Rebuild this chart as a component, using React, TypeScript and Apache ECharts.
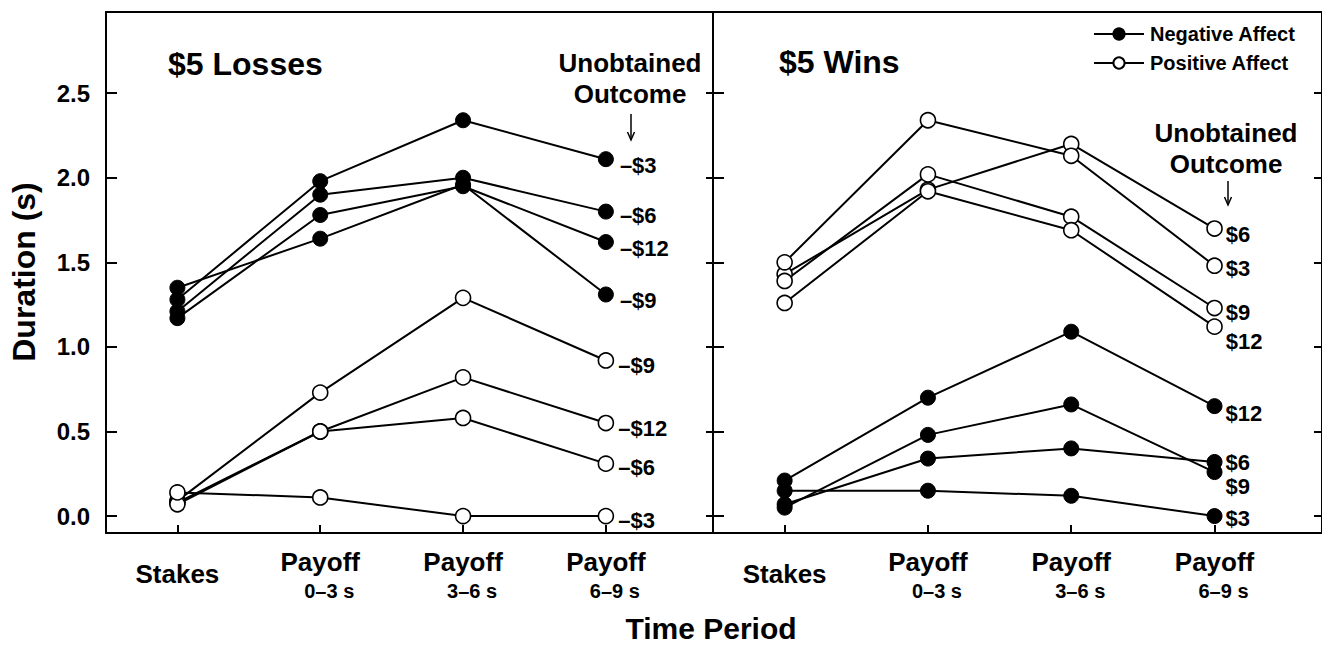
import React, { useEffect, useRef } from "react";
import * as echarts from "echarts";

// ---------- data ----------
const periods = ["Stakes", "Payoff", "Payoff", "Payoff"];
const periodSub = ["", "0–3 s", "3–6 s", "6–9 s"];
const periodX = [1, 2, 3, 4];
const yTicks = [0, 0.5, 1, 1.5, 2, 2.5];

// $5 Losses, Negative Affect (unobtained outcome)
const lossNegLabels = ["–$3", "–$6", "–$12", "–$9"];
const lossNeg3 = [1.28, 1.98, 2.34, 2.11];
const lossNeg6 = [1.21, 1.9, 2.0, 1.8];
const lossNeg12 = [1.17, 1.78, 1.95, 1.62];
const lossNeg9 = [1.35, 1.64, 1.96, 1.31];

// $5 Losses, Positive Affect
const lossPosLabels = ["–$9", "–$12", "–$6", "–$3"];
const lossPos9 = [0.09, 0.73, 1.29, 0.92];
const lossPos12 = [0.08, 0.5, 0.82, 0.55];
const lossPos6 = [0.07, 0.5, 0.58, 0.31];
const lossPos3 = [0.14, 0.11, 0.0, 0.0];

// $5 Wins, Positive Affect
const winPosLabels = ["$6", "$3", "$9", "$12"];
const winPos6 = [1.43, 1.93, 2.2, 1.7];
const winPos3 = [1.5, 2.34, 2.13, 1.48];
const winPos9 = [1.39, 2.02, 1.77, 1.23];
const winPos12 = [1.26, 1.92, 1.69, 1.12];

// $5 Wins, Negative Affect
const winNegLabels = ["$12", "$6", "$9", "$3"];
const winNeg12 = [0.21, 0.7, 1.09, 0.65];
const winNeg6 = [0.07, 0.34, 0.4, 0.32];
const winNeg9 = [0.05, 0.48, 0.66, 0.26];
const winNeg3 = [0.15, 0.15, 0.12, 0.0];

const NEG = "Negative Affect";
const POS = "Positive Affect";

// ---------- styles ----------
const FONT = "'Liberation Sans', Arial, Helvetica, sans-serif";
const lossNegDy = [6, 4, 6, 6];
const lossPosDy = [5, 5, 4, 4];
const winPosDy = [6, 3, 4, 15];
const winNegDy = [7, 1, 14, 2];

function makeSeries(
  name: string,
  values: number[],
  label: string,
  panel: number,
  filled: boolean,
  dy: number,
  dist: number
) {
  const data = values.map((v, i) => {
    if (i === values.length - 1) {
      return {
        value: [periodX[i], v],
        label: {
          show: true,
          formatter: label,
          position: "right",
          distance: dist,
          offset: [0, dy],
          fontSize: 22,
          fontWeight: "bold",
          fontFamily: FONT,
          color: "#000",
        },
      };
    }
    return { value: [periodX[i], v] };
  });
  return {
    type: "line",
    name,
    xAxisIndex: panel * 2,
    yAxisIndex: panel * 2,
    data,
    symbol: "circle",
    symbolSize: 15,
    showSymbol: true,
    lineStyle: { color: "#000", width: 2 },
    itemStyle: filled
      ? { color: "#000", borderColor: "#000", borderWidth: 1 }
      : { color: "#fff", borderColor: "#000", borderWidth: 1.6 },
    emphasis: { disabled: true },
    z: filled ? 3 : 2,
  };
}

const tickStyle = { color: "#000", width: 2 };

function yAxisCfg(grid: number, position: string, len: number, labels: boolean) {
  return {
    type: "value",
    gridIndex: grid,
    position,
    min: -0.1,
    max: 2.98,
    splitLine: { show: false },
    axisLine: { show: true, onZero: false, lineStyle: tickStyle },
    axisTick: { show: true, inside: true, length: len, lineStyle: tickStyle, customValues: yTicks },
    axisLabel: labels
      ? {
          show: true,
          customValues: yTicks,
          margin: 16,
          fontSize: 24,
          fontWeight: "bold",
          fontFamily: FONT,
          color: "#000",
          formatter: (v: number) => v.toFixed(1),
        }
      : { show: false },
  };
}

function xAxisBottom(grid: number) {
  return {
    type: "value",
    gridIndex: grid,
    position: "bottom",
    min: 0.5,
    max: 4.75,
    splitLine: { show: false },
    axisLine: { show: true, onZero: false, lineStyle: tickStyle },
    axisTick: { show: true, inside: true, length: 8, lineStyle: tickStyle, customValues: periodX },
    axisLabel: {
      show: true,
      customValues: periodX,
      margin: 14.5,
      color: "#000",
      fontFamily: FONT,
      fontWeight: "bold",
      formatter: (v: number) => {
        const i = Math.round(v) - 1;
        if (!periodSub[i]) return "{st|" + periods[i] + "}";
        return "{p|" + periods[i] + "}\n{s|" + periodSub[i] + "}";
      },
      rich: {
        st: { fontSize: 26, fontWeight: "bold", fontFamily: FONT, color: "#000", lineHeight: 53 },
        p: { fontSize: 26, fontWeight: "bold", fontFamily: FONT, color: "#000", lineHeight: 29 },
        s: {
          fontSize: 20,
          fontWeight: "bold",
          fontFamily: FONT,
          color: "#000",
          lineHeight: 29,
          padding: [0, 0, 0, 18],
        },
      },
    },
  };
}

function xAxisTop(grid: number) {
  return {
    type: "value",
    gridIndex: grid,
    position: "top",
    min: 0.5,
    max: 4.75,
    splitLine: { show: false },
    axisLine: { show: true, onZero: false, lineStyle: tickStyle },
    axisTick: { show: false },
    axisLabel: { show: false },
  };
}

function arrow(x: number, y1: number, y2: number) {
  return [
    { type: "line", shape: { x1: x, y1, x2: x, y2 }, style: { stroke: "#000", lineWidth: 1.5 } },
    {
      type: "polyline",
      shape: { points: [[x - 3.5, y2 - 8], [x, y2], [x + 3.5, y2 - 8]] },
      style: { stroke: "#000", lineWidth: 1.5, fill: null },
    },
  ];
}

const textStyle = (text: string, size: number, align = "left") => ({
  text,
  font: `bold ${size}px ${FONT}`,
  fill: "#000",
  textAlign: align,
  textVerticalAlign: "middle",
});

export default function App() {
  const ref = useRef<HTMLDivElement>(null);
  useEffect(() => {
    if (!ref.current) return;
    const chart = echarts.init(ref.current, null, { renderer: "svg" });
    const series = [
      makeSeries(NEG, lossNeg3, lossNegLabels[0], 0, true, lossNegDy[0], 6),
      makeSeries(NEG, lossNeg6, lossNegLabels[1], 0, true, lossNegDy[1], 6),
      makeSeries(NEG, lossNeg12, lossNegLabels[2], 0, true, lossNegDy[2], 6),
      makeSeries(NEG, lossNeg9, lossNegLabels[3], 0, true, lossNegDy[3], 6),
      makeSeries(POS, lossPos9, lossPosLabels[0], 0, false, lossPosDy[0], 4),
      makeSeries(POS, lossPos12, lossPosLabels[1], 0, false, lossPosDy[1], 4),
      makeSeries(POS, lossPos6, lossPosLabels[2], 0, false, lossPosDy[2], 4),
      makeSeries(POS, lossPos3, lossPosLabels[3], 0, false, lossPosDy[3], 4),
      makeSeries(POS, winPos6, winPosLabels[0], 1, false, winPosDy[0], 3),
      makeSeries(POS, winPos3, winPosLabels[1], 1, false, winPosDy[1], 3),
      makeSeries(POS, winPos9, winPosLabels[2], 1, false, winPosDy[2], 3),
      makeSeries(POS, winPos12, winPosLabels[3], 1, false, winPosDy[3], 3),
      makeSeries(NEG, winNeg12, winNegLabels[0], 1, true, winNegDy[0], 3),
      makeSeries(NEG, winNeg6, winNegLabels[1], 1, true, winNegDy[1], 3),
      makeSeries(NEG, winNeg9, winNegLabels[2], 1, true, winNegDy[2], 3),
      makeSeries(NEG, winNeg3, winNegLabels[3], 1, true, winNegDy[3], 3),
    ];
    chart.setOption({
      animation: false,
      backgroundColor: "#fff",
      grid: [
        { left: 106, top: 12, width: 607, height: 521 },
        { left: 713, top: 12, width: 609, height: 521 },
      ],
      xAxis: [xAxisBottom(0), xAxisTop(0), xAxisBottom(1), xAxisTop(1)],
      yAxis: [
        yAxisCfg(0, "left", 11, true),
        yAxisCfg(0, "right", 7, false),
        yAxisCfg(1, "left", 11, false),
        yAxisCfg(1, "right", 8, false),
      ],
      legend: {
        data: [NEG, POS],
        orient: "vertical",
        left: 1088,
        top: 19,
        itemWidth: 50,
        itemHeight: 14,
        itemGap: 9,
        selectedMode: false,
        textStyle: {
          fontSize: 20,
          fontWeight: "bold",
          fontFamily: FONT,
          color: "#000",
          lineHeight: 20,
          padding: [0, 0, 0, 1],
        },
      },
      graphic: [
        { type: "text", left: 168, top: 48, style: textStyle("$5 Losses", 32) },
        { type: "text", left: 779, top: 46, style: textStyle("$5 Wins", 32) },
        {
          type: "text",
          x: 630,
          y: 78.5,
          style: { ...textStyle("Unobtained\nOutcome", 26, "center"), lineHeight: 31 },
        },
        {
          type: "text",
          x: 1226,
          y: 148.5,
          style: { ...textStyle("Unobtained\nOutcome", 26, "center"), lineHeight: 31 },
        },
        ...arrow(631, 114, 140),
        ...arrow(1228, 181, 205),
        {
          type: "text",
          x: 24,
          y: 272,
          rotation: Math.PI / 2,
          style: textStyle("Duration (s)", 32, "center"),
        },
        { type: "text", x: 711, y: 628, style: textStyle("Time Period", 30, "center") },
      ],
      series,
    });
    return () => chart.dispose();
  }, []);
  return (
    <div
      ref={ref}
      style={{ position: "absolute", left: 0, top: 0, width: 1322, height: 646, background: "#fff" }}
    />
  );
}
